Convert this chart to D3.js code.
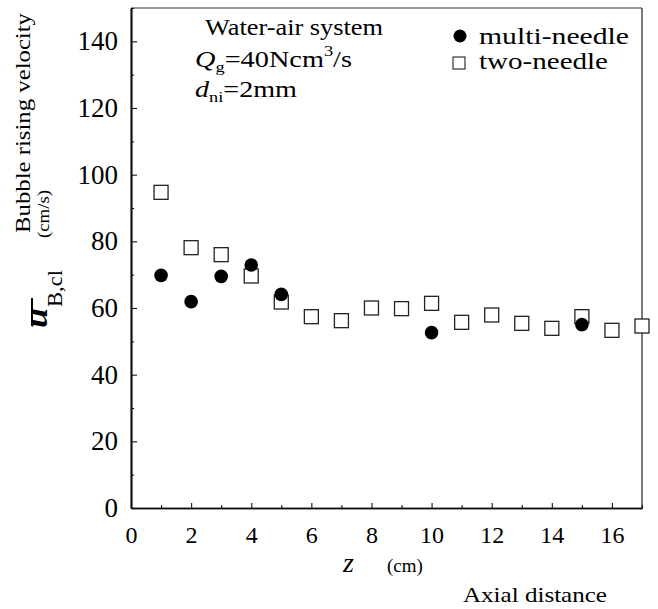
<!DOCTYPE html>
<html>
<head>
<meta charset="utf-8">
<script src="https://cdn.jsdelivr.net/npm/d3@7"></script>
<style>
  html, body { margin: 0; padding: 0; background: #fff; }
  svg { display: block; }
  svg text { font-family: "Liberation Serif", "Times New Roman", Times, Tinos, "DejaVu Serif", serif; }
</style>
</head>
<body>
<svg id="chart" width="658" height="609"></svg>
<script>
// axial distance z (cm) vs bubble rising velocity (cm/s)
const twoNeedleZ = [1, 2, 3, 4, 5, 6, 7, 8, 9, 10, 11, 12, 13, 14, 15, 16, 17];
const twoNeedleU = [94.7, 78.1, 76.0, 69.6, 61.8, 57.4, 56.2, 60.0, 59.8, 61.4, 55.7, 57.9, 55.4, 53.9, 57.4, 53.3, 54.6];
const multiNeedleZ = [1, 2, 3, 4, 5, 10, 15];
const multiNeedleU = [69.8, 61.9, 69.5, 72.9, 64.1, 52.6, 55.0];

const xMajor = [0, 2, 4, 6, 8, 10, 12, 14, 16];
const xMinor = [1, 3, 5, 7, 9, 11, 13, 15, 17];
const yMajor = [0, 20, 40, 60, 80, 100, 120, 140];
const yMinor = [10, 30, 50, 70, 90, 110, 130, 150];

const svg = d3.select("#chart");
const plotLeft = 131, plotRight = 642, plotTop = 8, plotBottom = 508;

const x = d3.scaleLinear().domain([0, 17]).range([plotLeft, plotRight]);
const y = d3.scaleLinear().domain([0, 150]).range([plotBottom, plotTop]);

// frame (top and right are thin)
svg.append("line")
  .attr("x1", plotLeft).attr("x2", plotRight).attr("y1", plotTop).attr("y2", plotTop)
  .attr("stroke", "#333").attr("stroke-width", 1);
svg.append("line")
  .attr("x1", plotRight).attr("x2", plotRight).attr("y1", plotTop).attr("y2", plotBottom)
  .attr("stroke", "#222").attr("stroke-width", 1.2);

function styleAxis(size) {
  return function (g) {
    g.attr("font-family", null).attr("font-size", null);
    g.selectAll("path.domain").attr("stroke", "#111").attr("stroke-width", 1.7);
    g.selectAll(".tick line").attr("stroke", "#111").attr("stroke-width", 1.1);
    g.selectAll("text").attr("fill", "#000").attr("font-size", size);
  };
}

// x axis, ticks pointing inward
svg.append("g")
  .attr("transform", `translate(0,${plotBottom})`)
  .call(d3.axisBottom(x).tickValues(xMinor).tickFormat("").tickSizeInner(-3).tickSizeOuter(0))
  .call(styleAxis(24));
svg.append("g")
  .attr("transform", `translate(0,${plotBottom})`)
  .call(d3.axisBottom(x).tickValues(xMajor).tickFormat(d3.format("d"))
    .tickSizeInner(-5).tickSizeOuter(0).tickPadding(18))
  .call(styleAxis(24));

// y axis
svg.append("g")
  .attr("transform", `translate(${plotLeft},0)`)
  .call(d3.axisLeft(y).tickValues(yMinor).tickFormat("").tickSizeInner(-3).tickSizeOuter(0))
  .call(styleAxis(27));
svg.append("g")
  .attr("transform", `translate(${plotLeft},0)`)
  .call(d3.axisLeft(y).tickValues(yMajor).tickFormat(d3.format("d"))
    .tickSizeInner(-6).tickSizeOuter(0).tickPadding(13))
  .call(styleAxis(27));

// data
const squareSize = 14;
svg.append("g").selectAll("rect")
  .data(twoNeedleZ.map((z, i) => [z, twoNeedleU[i]]))
  .join("rect")
  .attr("x", d => x(d[0]) - squareSize / 2)
  .attr("y", d => y(d[1]) - squareSize / 2)
  .attr("width", squareSize)
  .attr("height", squareSize)
  .attr("fill", "#fff")
  .attr("stroke", "#222")
  .attr("stroke-width", 1.3);

svg.append("g").selectAll("circle")
  .data(multiNeedleZ.map((z, i) => [z, multiNeedleU[i]]))
  .join("circle")
  .attr("cx", d => x(d[0]))
  .attr("cy", d => y(d[1]))
  .attr("r", 6.8)
  .attr("fill", "#000");

// stretch a text to the width it has in the scan
function fit(sel, len) {
  return sel.attr("textLength", len).attr("lengthAdjust", "spacingAndGlyphs");
}

// annotation text
const note = svg.append("g").attr("font-size", 23).attr("fill", "#000");
fit(note.append("text").attr("x", 205).attr("y", 35).text("Water-air system"), 178);
const q = note.append("text").attr("x", 195).attr("y", 67);
q.append("tspan").attr("font-style", "italic").text("Q");
q.append("tspan").attr("font-size", 15).attr("dy", 5).text("g");
q.append("tspan").attr("dy", -5).text("=40Ncm");
q.append("tspan").attr("font-size", 15).attr("dy", -11).text("3");
q.append("tspan").attr("dy", 11).text("/s");
fit(q, 157);
const dn = note.append("text").attr("x", 195).attr("y", 97);
dn.append("tspan").attr("font-style", "italic").text("d");
dn.append("tspan").attr("font-size", 15).attr("dy", 5).text("ni");
dn.append("tspan").attr("dy", -5).text("=2mm");
fit(dn, 102);

// legend
const legend = svg.append("g").attr("font-size", 23).attr("fill", "#000");
legend.append("circle").attr("cx", 460).attr("cy", 36).attr("r", 6.5).attr("fill", "#000");
fit(legend.append("text").attr("x", 479).attr("y", 44).text("multi-needle"), 150);
legend.append("rect").attr("x", 453).attr("y", 57).attr("width", 12).attr("height", 12)
  .attr("fill", "#fff").attr("stroke", "#222").attr("stroke-width", 1.1);
fit(legend.append("text").attr("x", 479).attr("y", 69).text("two-needle"), 129);

// y title
fit(svg.append("text")
  .attr("transform", "translate(30,233) rotate(-90)")
  .attr("font-size", 22)
  .text("Bubble rising velocity"), 220);
fit(svg.append("text")
  .attr("transform", "translate(49,238) rotate(-90)")
  .attr("font-size", 16)
  .text("(cm/s)"), 48);

const ul = svg.append("g").attr("transform", "translate(47,328) rotate(-90)");
const uText = ul.append("text").attr("x", 0).attr("y", 0);
uText.append("tspan").attr("font-size", 32).attr("font-style", "italic").attr("font-weight", "bold").text("u");
uText.append("tspan").attr("font-size", 20).attr("dx", 1).attr("dy", 15).text("B,cl");
fit(uText, 58);
ul.append("line").attr("x1", 2).attr("x2", 30).attr("y1", -15).attr("y2", -15)
  .attr("stroke", "#000").attr("stroke-width", 2);

// x title
const zt = svg.append("text").attr("x", 343).attr("y", 572);
zt.append("tspan").attr("font-size", 28).attr("font-style", "italic").text("z");
zt.append("tspan").attr("font-size", 19).attr("dx", 33).text("(cm)");
fit(svg.append("text").attr("x", 463).attr("y", 602).attr("font-size", 22).text("Axial distance"), 144);
</script>
</body>
</html>
